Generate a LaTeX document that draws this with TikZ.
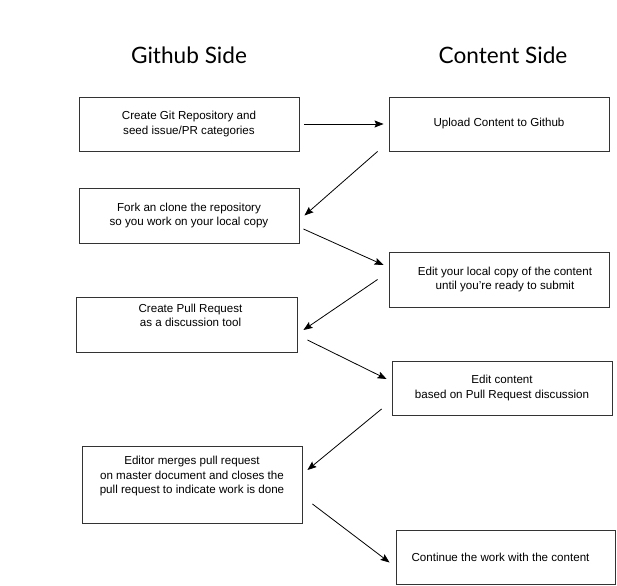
\documentclass[tikz,border=0pt]{standalone}
\usepackage{fontspec}
\setmainfont{Liberation Sans}
\newfontfamily\sidefont{Lato}
\usetikzlibrary{arrows.meta}
\usetikzlibrary{calc}

\begin{document}
\begin{tikzpicture}[x=1pt,y=1pt,yscale=-1,xscale=1,
  stepbox/.style={draw=black!80,line width=0.9pt,minimum width=220pt,minimum height=55pt,inner sep=0pt,align=center,font=\fontsize{11.6}{14.4}\selectfont},
  sidehead/.style={inner sep=0pt,font=\sidefont\fontsize{22.6}{26}\selectfont},
  flow/.style={line width=0.8pt,-{Stealth[length=9pt,width=7pt,inset=1.5pt]}}]
\useasboundingbox (0,0) rectangle (617,585);

% Text Node
\node [sidehead] (ghside) at (189,55) {Github Side};
% Text Node
\node [sidehead] (ctside) at (503,55) {Content Side};

% Step Node
\node [stepbox, minimum height=54pt] (repo) at (189,124) {Create Git Repository and\\seed issue/PR categories};
% Step Node
\node [stepbox, minimum height=54pt] (upload) at (499,124) {Upload Content to Github};
% Step Node
\node [stepbox] (fork) at (189,215.5) {Fork an clone the repository\\so you work on your local copy};
% Step Node
\node [stepbox] (local) at (499,279.5) {\hspace*{12pt}Edit your local copy of the content\\\hspace*{12pt}until you’re ready to submit};
% Step Node
\node [stepbox, minimum width=221pt] (pr) at (186.5,324.5) {\hspace*{8pt}Create Pull Request\\\hspace*{8pt}as a discussion tool\\[4pt]};
% Step Node
\node [stepbox, minimum height=54pt] (discuss) at (502,388) {Edit content\\based on Pull Request discussion};
% Step Node
\node [stepbox, minimum height=77pt] (merge) at (192,484.5) {Editor merges pull request\\on master document and closes the\\pull request to indicate work is done\\[5pt]};
% Step Node
\node [stepbox, minimum width=219pt, minimum height=54pt] (cont) at (505.5,557) {\hspace*{-10pt}Continue the work with the content};

% Connection
\draw [flow] ($(repo.east)+(5,0)$) -- ($(upload.west)+(-5,0)$);
% Connection
\draw [flow] ($(upload.south west)+(-11,0)$) -- ($(fork.east)+(5,0)$);
% Connection
\draw [flow] ($(fork.east)+(4,13.5)$) -- ($(local.west)+(-5,-14.5)$);
% Connection
\draw [flow] ($(local.west)+(-11,0)$) -- ($(pr.east)+(6,5.5)$);
% Connection
\draw [flow] ($(pr.east)+(10,15.5)$) -- ($(discuss.west)+(-5,-9)$);
% Connection
\draw [flow] ($(discuss.west)+(-10,21)$) -- ($(merge.east)+(5,-14.5)$);
% Connection
\draw [flow] ($(merge.east)+(10,19.5)$) -- ($(cont.west)+(-6,5.5)$);

\end{tikzpicture}
\end{document}
